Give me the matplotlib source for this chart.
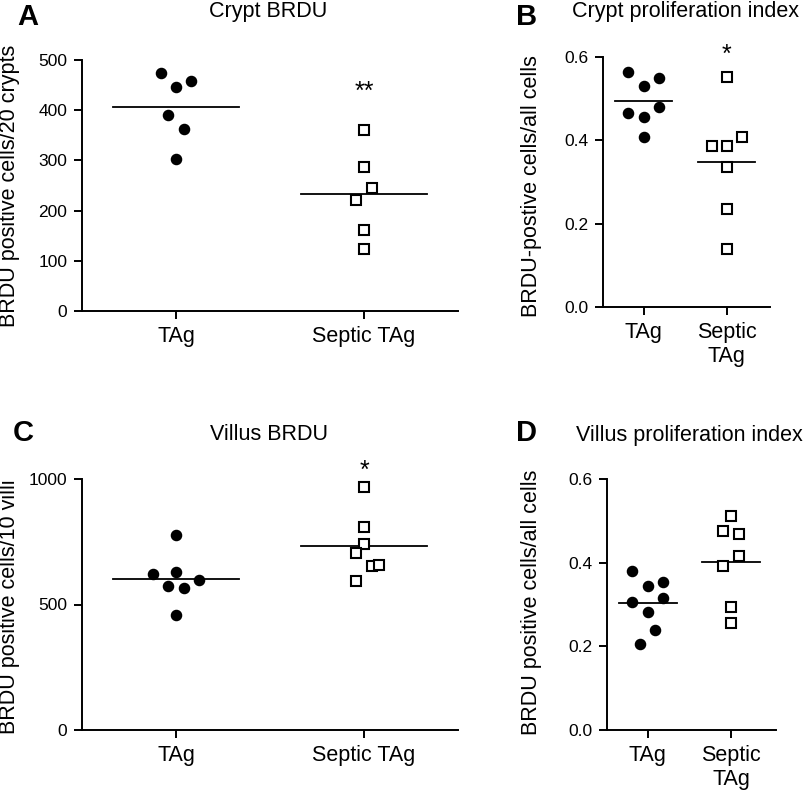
import matplotlib
matplotlib.use("Agg")
import matplotlib.pyplot as plt
import numpy as np

plt.rcParams['font.family'] = ['Liberation Sans', 'DejaVu Sans']

# ---------------- data ----------------
categories = ["TAg", "Septic TAg"]
categories_wrapped = ["TAg", "Septic\nTAg"]

# Panel A: Crypt BRDU
A_tag = [475, 447, 458, 391, 362, 302]
A_tag_slots = [-2, 0, 2, -1, 1, 0]
A_sep = [360, 286, 245, 222, 161, 123]
A_sep_slots = [0, 0, 1, -1, 0, 0]

# Panel B: Crypt proliferation index
B_tag = [0.564, 0.530, 0.549, 0.466, 0.455, 0.481, 0.409]
B_tag_slots = [-2, 0, 2, -2, 0, 2, 0]
B_sep = [0.551, 0.386, 0.386, 0.408, 0.336, 0.235, 0.140]
B_sep_slots = [0, -2, 0, 2, 0, 0, 0]

# Panel C: Villus BRDU
C_tag = [775, 621, 630, 597, 572, 566, 457]
C_tag_slots = [0, -3, 0, 3, -1, 1, 0]
C_sep = [967, 807, 742, 707, 654, 658, 592]
C_sep_slots = [0, 0, 0, -1, 1, 2, -1]

# Panel D: Villus proliferation index
D_tag = [0.380, 0.345, 0.353, 0.307, 0.316, 0.281, 0.238, 0.206]
D_tag_slots = [-2, 0, 2, -2, 2, 0, 1, -1]
D_sep = [0.511, 0.475, 0.468, 0.415, 0.393, 0.294, 0.255]
D_sep_slots = [0, -1, 1, 1, -1, 0, 0]

# ---------------- figure ----------------
W, H = 808, 797
fig = plt.figure(figsize=(W / 100, H / 100), dpi=100)


def px_axes(left, right, top, bottom):
    return fig.add_axes([left / W, 1 - bottom / H, (right - left) / W, (bottom - top) / H])


def style(ax):
    for s in ['top', 'right']:
        ax.spines[s].set_visible(False)
    for s in ['left', 'bottom']:
        ax.spines[s].set_linewidth(1.4)
    ax.tick_params(axis='y', direction='out', length=5.5, width=1.4, labelsize=12.5, pad=5)
    ax.tick_params(axis='x', direction='out', length=5.5, width=1.4, labelsize=15.5, pad=5)


def draw(ax, tag, tag_slots, sep, sep_slots, unit, half):
    xs = 0 + np.array(tag_slots) * unit
    ax.plot(xs, tag, 'o', color='black', markersize=7.3, clip_on=False, zorder=3)
    xs2 = 1 + np.array(sep_slots) * unit
    ax.plot(xs2, sep, 's', markerfacecolor='white', markeredgecolor='black',
            markeredgewidth=1.5, markersize=7.0, clip_on=False, zorder=3)
    for i, vals in enumerate([tag, sep]):
        m = np.mean(vals)
        ax.plot([i - half, i + half], [m, m], color='black', lw=1.3, zorder=2)


# Panel A
axA = px_axes(82, 458, 60, 311)
style(axA)
draw(axA, A_tag, A_tag_slots, A_sep, A_sep_slots, 0.04, 0.335)
axA.set_xlim(-0.5, 1.5)
axA.set_ylim(0, 500)
axA.set_yticks([0, 100, 200, 300, 400, 500])
axA.set_xticks([0, 1])
axA.set_xticklabels(categories)
axA.text(1, 437, "**", ha='center', va='center', fontsize=18)

# Panel B
axB = px_axes(603, 770, 57, 307)
style(axB)
draw(axB, B_tag, B_tag_slots, B_sep, B_sep_slots, 0.092, 0.345)
axB.set_xlim(-0.49, 1.52)
axB.set_ylim(0, 0.6)
axB.set_yticks([0, 0.2, 0.4, 0.6])
axB.set_yticklabels(["0.0", "0.2", "0.4", "0.6"])
axB.set_xticks([0, 1])
axB.set_xticklabels(categories_wrapped)
axB.text(1, 0.606, "*", ha='center', va='center', fontsize=18, clip_on=False)

# Panel C
axC = px_axes(82, 458, 479, 730)
style(axC)
draw(axC, C_tag, C_tag_slots, C_sep, C_sep_slots, 0.04, 0.335)
axC.set_xlim(-0.5, 1.5)
axC.set_ylim(0, 1000)
axC.set_yticks([0, 500, 1000])
axC.set_xticks([0, 1])
axC.set_xticklabels(categories)
axC.text(1, 1032, "*", ha='center', va='center', fontsize=18, clip_on=False)

# Panel D
axD = px_axes(607, 776, 479, 730)
style(axD)
draw(axD, D_tag, D_tag_slots, D_sep, D_sep_slots, 0.092, 0.35)
axD.set_xlim(-0.49, 1.54)
axD.set_ylim(0, 0.6)
axD.set_yticks([0, 0.2, 0.4, 0.6])
axD.set_yticklabels(["0.0", "0.2", "0.4", "0.6"])
axD.set_xticks([0, 1])
axD.set_xticklabels(categories_wrapped)


def ftext(x, y, s, **kw):
    fig.text(x / W, 1 - y / H, s, **kw)


# panel letters
ftext(28, 17, "A", fontsize=21, fontweight='bold', ha='center', va='center')
ftext(527, 17, "B", fontsize=21, fontweight='bold', ha='center', va='center')
ftext(23, 433, "C", fontsize=21, fontweight='bold', ha='center', va='center')
ftext(527, 433, "D", fontsize=21, fontweight='bold', ha='center', va='center')

# titles
ftext(268, 11, "Crypt BRDU", fontsize=15.5, ha='center', va='center')
ftext(685, 12, "Crypt proliferation index", fontsize=15.5, ha='center', va='center')
ftext(269, 434, "Villus BRDU", fontsize=15.5, ha='center', va='center')
ftext(689, 435, "Villus proliferation index", fontsize=15.5, ha='center', va='center')

# y labels
ftext(10, 186, "BRDU positive cells/20 crypts", fontsize=15.5, rotation=90, ha='center', va='center')
ftext(531, 186, "BRDU-postive cells/all cells", fontsize=15.5, rotation=90, ha='center', va='center')
ftext(10, 607, "BRDU positive cells/10 villi", fontsize=15.5, rotation=90, ha='center', va='center')
ftext(531, 602, "BRDU positive cells/all cells", fontsize=15.5, rotation=90, ha='center', va='center')

fig.savefig("out.png", dpi=100)
